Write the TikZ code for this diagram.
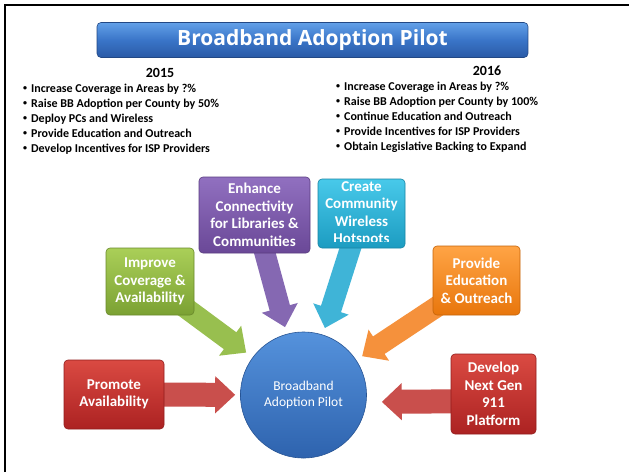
\documentclass[tikz,border=0pt]{standalone}
\usepackage{fontspec}
\setmainfont{Carlito}
\newfontfamily\titlefont{Open Sans}
\usetikzlibrary{arrows.meta}

\definecolor{titleA}{HTML}{62A0E8}
\definecolor{titleM}{HTML}{3A75C8}
\definecolor{titleB}{HTML}{2A5AA6}
\definecolor{purpleA}{HTML}{9170C0}
\definecolor{purpleB}{HTML}{6A4897}
\definecolor{purpleArrow}{HTML}{8568B2}
\definecolor{cyanA}{HTML}{48C9EA}
\definecolor{cyanB}{HTML}{1C9CC1}
\definecolor{cyanArrow}{HTML}{3FB4D7}
\definecolor{greenA}{HTML}{AACF58}
\definecolor{greenB}{HTML}{7BA133}
\definecolor{greenArrow}{HTML}{98BF4F}
\definecolor{orangeA}{HTML}{FFA445}
\definecolor{orangeB}{HTML}{E8760C}
\definecolor{orangeArrow}{HTML}{F5913C}
\definecolor{redA}{HTML}{DA4A42}
\definecolor{redB}{HTML}{AC2222}
\definecolor{redArrow}{HTML}{C94F4C}
\definecolor{hubA}{HTML}{5592DC}
\definecolor{hubB}{HTML}{2E63AE}

\newcommand{\smallbullet}{\raisebox{1.6pt}{\fontsize{8}{8}\selectfont\textbullet}\hspace{4pt}}

\tikzset{
  titlebar/.style={rounded corners=4pt, draw=titleB!80!black, line width=0.6pt,
    top color=titleA, bottom color=titleB, middle color=titleM,
    minimum width=431pt, minimum height=35pt, inner sep=0pt,
    text=white, font=\titlefont\bfseries\fontsize{21}{25}\selectfont},
  yearlabel/.style={inner sep=0pt, font=\bfseries\fontsize{14}{16}\selectfont},
  listline/.style={anchor=base west, inner sep=0pt, font=\bfseries\fontsize{12}{15}\selectfont},
  goalbox/.style n args={2}{rounded corners=4pt, draw=#2!85!black, line width=0.6pt,
    top color=#1, bottom color=#2, inner sep=0pt, align=center, text=white,
    font=\bfseries\fontsize{15}{17.5}\selectfont},
  boxtext/.style={inner sep=0pt, align=center, text=white,
    font=\bfseries\fontsize{15}{17.5}\selectfont},
  hubnode/.style={circle, minimum size=126pt, inner sep=0pt, draw=hubB!85!black,
    line width=0.6pt, top color=hubA, bottom color=hubB, align=center, text=white,
    font=\fontsize{13.5}{16}\selectfont},
  blockarrow/.style={line width=21pt, draw=#1,
    -{Triangle[width=36pt, length=20pt]}},
}

\begin{document}
\begin{tikzpicture}[x=1pt, y=-1pt]
  \useasboundingbox (0,0) rectangle (629,472);
  \fill[white] (0,0) rectangle (629,472);

  % frame along the top and left edges
  \draw[line width=2.6pt] (5,472) -- (5,5) -- (632,5);

  % heading
  \node[titlebar] (title) at (312.5,40) {Broadband Adoption Pilot};

  % goals per year
  \node[yearlabel] (y15) at (160,73) {2015};
  \node[yearlabel] (y16) at (487,71) {2016};
  \foreach \t [count=\i] in {Increase Coverage in Areas by ?\%,
      Raise BB Adoption per County by 50\%,
      Deploy PCs and Wireless,
      Provide Education and Outreach,
      Develop Incentives for ISP Providers}
    \node[listline] (la\i) at (23,{77.5+15*\i}) {\smallbullet\t};
  \foreach \t [count=\i] in {Increase Coverage in Areas by ?\%,
      Raise BB Adoption per County by 100\%,
      Continue Education and Outreach,
      Provide Incentives for ISP Providers,
      Obtain Legislative Backing to Expand}
    \node[listline] (lb\i) at (336,{75.5+15*\i}) {\smallbullet\t};

  % central pilot
  \node[hubnode] (hub) at (303.5,395) {Broadband\\Adoption Pilot};

  % box positions (drawn after the arrows)
  \coordinate (cEnh) at (254.5,215);
  \coordinate (cHot) at (361.5,213.5);
  \coordinate (cImp) at (150,281.5);
  \coordinate (cEdu) at (476.5,280.5);
  \coordinate (cPro) at (114,394.5);
  \coordinate (cNxt) at (493.5,394);

  % arrows into the pilot
  \draw[blockarrow=purpleArrow, shorten >=7pt] (cEnh) -- (hub);
  \draw[blockarrow=cyanArrow, shorten >=7pt] (cHot) -- (hub);
  \draw[blockarrow=greenArrow, shorten >=8pt] (cImp) -- (hub);
  \draw[blockarrow=orangeArrow, shorten >=7pt] (cEdu) -- (hub);
  \draw[blockarrow=redArrow, line width=24pt, shorten >=5pt] (cPro) -- (hub);
  \draw[blockarrow=redArrow, line width=24pt, shorten >=15pt]
    ([yshift=-7pt]cNxt) -- ([yshift=-7pt]hub.east);

  % goal boxes
  \node[goalbox={purpleA}{purpleB}, minimum width=111pt, minimum height=76pt]
    (enhance) at (cEnh) {Enhance\\Connectivity\\for Libraries \&\\Communities};
  \node[goalbox={cyanA}{cyanB}, minimum width=87pt, minimum height=69pt]
    (hotspots) at (cHot) {};
  \begin{scope}
    \clip ([xshift=2pt,yshift=7pt]hotspots.south west) rectangle
          ([xshift=-2pt,yshift=-2pt]hotspots.north east);
    \node[boxtext] (hottext) at ([yshift=-0.5pt]hotspots.center)
      {Create\\Community\\Wireless\\Hotspots};
  \end{scope}
  \node[goalbox={greenA}{greenB}, minimum width=88pt, minimum height=67pt]
    (improve) at (cImp) {Improve\\Coverage \&\\Availability};
  \node[goalbox={orangeA}{orangeB}, minimum width=87pt, minimum height=69pt]
    (education) at (cEdu) {Provide\\Education\\\& Outreach};
  \node[goalbox={redA}{redB}, minimum width=100pt, minimum height=69pt]
    (promote) at (cPro) {Promote\\Availability};
  \node[goalbox={redA}{redB}, minimum width=85pt, minimum height=80pt]
    (nextgen) at (cNxt) {Develop\\Next Gen\\911\\Platform};
\end{tikzpicture}
\end{document}
